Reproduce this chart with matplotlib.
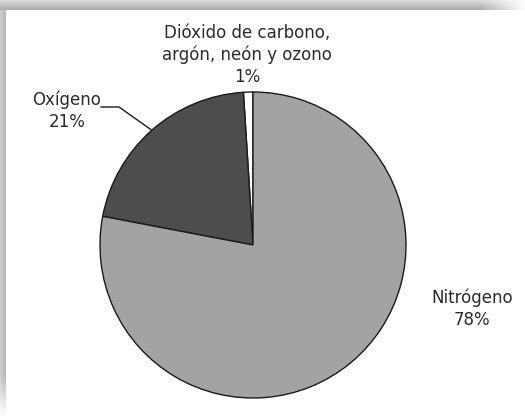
import numpy as np
import matplotlib
matplotlib.use("Agg")
import matplotlib.pyplot as plt

# Composition of dry air
labels = ["Dióxido de carbono,\nargón, neón y ozono", "Oxígeno", "Nitrógeno"]
values = [1, 21, 78]
colors = ["#ffffff", "#4d4d4d", "#a3a3a3"]

W, H, DPI = 525, 416, 100
fig = plt.figure(figsize=(W / DPI, H / DPI), dpi=DPI)
fig.patch.set_facecolor("white")

# Soft shaded frame along the top and left edges (transparent elsewhere)
frame = np.zeros((H, W, 4))
top_rows = np.linspace(0.86, 0.68, 10)
fade_x = np.clip((W - np.arange(W)) / 45.0, 0, 1)
for i, v in enumerate(top_rows):
    frame[i, :, :3] = v
    frame[i, :, 3] = fade_x
left_cols = np.linspace(0.80, 0.72, 6)
fade_y = np.clip((H - np.arange(H)) / 40.0, 0, 1)
for j, v in enumerate(left_cols):
    frame[10:, j, :3] = v
    frame[10:, j, 3] = fade_y[10:]
fig.figimage(frame, xo=0, yo=0, origin="upper", zorder=0)

cx, cy, r = 253, 245, 153
ax = fig.add_axes([(cx - r) / W, (H - cy - r) / H, 2 * r / W, 2 * r / H])
ax.set_zorder(2)

wedges, _ = ax.pie(values, colors=colors, startangle=90, counterclock=True,
                   radius=1, wedgeprops=dict(edgecolor="#1a1a1a", linewidth=1.0))
ax.set_xlim(-1, 1)
ax.set_ylim(-1, 1)
ax.set_aspect("equal")
ax.axis("off")


def px(x, y):
    return (x - cx) / r, (cy - y) / r


tkw = dict(fontsize=12, color="#2b2b2b", ha="center", va="center",
           family="DejaVu Sans", clip_on=False, linespacing=1.27)

pct = [f"{v}%" for v in values]
ax.text(*px(247, 55), f"{labels[0]}\n{pct[0]}", **tkw)
ax.text(*px(67, 111), f"{labels[1]}\n{pct[1]}", **tkw)
ax.text(*px(472, 309), f"{labels[2]}\n{pct[2]}", **tkw)

# Leader line for the oxygen wedge
mid = np.deg2rad(90 + 360 * (values[0] + values[1] / 2) / 100)
ex, ey = np.cos(mid), np.sin(mid)
p1 = px(101, 107)
p2 = px(119, 107)
ax.plot([p1[0], p2[0], ex], [p1[1], p2[1], ey], color="#1a1a1a",
        linewidth=1.0, clip_on=False)

fig.savefig("out.png", dpi=DPI)
